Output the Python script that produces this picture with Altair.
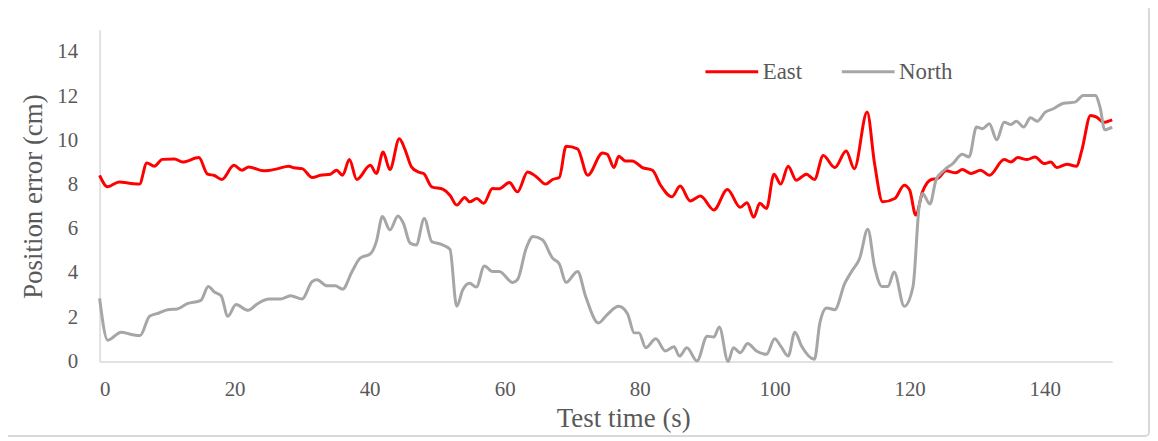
import altair as alt
import pandas as pd

east_t = [0.0, 1.2, 2.9, 4.7, 5.9, 7.0, 8.1, 9.3, 11.1, 12.3, 14.7, 16.0, 17.0, 18.1, 19.9,
          21.1, 22.1, 24.3, 26.3, 28.0, 28.8, 30.0, 31.5, 32.7, 34.2, 35.1, 36.0, 37.0, 38.1,
          40.1, 41.0, 42.0, 43.0, 44.4, 45.2, 46.2, 47.2, 48.0, 49.2, 50.9, 51.9, 52.9, 54.1,
          54.8, 55.9, 56.9, 58.2, 59.2, 60.7, 61.9, 63.4, 64.6, 66.1, 67.1, 68.1, 69.1, 70.8,
          72.3, 74.5, 75.2, 76.2, 76.9, 77.9, 78.9, 80.4, 81.9, 83.1, 84.8, 86.0, 87.5, 89.0,
          91.0, 93.0, 94.9, 95.9, 96.9, 97.8, 98.8, 99.9, 100.9, 102.0, 103.2, 104.7, 105.9,
          107.2, 108.9, 110.6, 111.8, 113.7, 114.8, 116.0, 117.8, 119.2, 120.0, 120.9, 121.9,
          123.2, 124.1, 125.4, 126.8, 127.8, 129.1, 130.5, 131.8, 134.0, 135.0, 136.0, 137.4,
          138.6, 139.9, 140.9, 141.8, 143.3, 144.7, 145.5, 146.8, 147.7, 148.7, 150.0]
east_v = [8.42, 7.90, 8.12, 8.05, 8.02, 8.98, 8.83, 9.14, 9.16, 9.02, 9.22, 8.47, 8.41, 8.23, 8.87,
          8.65, 8.80, 8.62, 8.71, 8.83, 8.76, 8.72, 8.32, 8.42, 8.47, 8.65, 8.42, 9.13, 8.23,
          8.87, 8.50, 9.47, 8.68, 10.07, 9.62, 8.80, 8.57, 8.50, 7.90, 7.78, 7.52, 7.07, 7.42,
          7.22, 7.37, 7.15, 7.82, 7.81, 8.09, 7.67, 8.57, 8.38, 8.02, 8.23, 8.32, 9.73, 9.62,
          8.42, 9.43, 9.37, 8.77, 9.28, 9.07, 9.07, 8.77, 8.65, 7.97, 7.45, 7.93, 7.26, 7.48,
          6.85, 7.78, 6.97, 7.18, 6.52, 7.15, 6.92, 8.47, 8.02, 8.83, 8.20, 8.47, 8.23,
          9.32, 8.77, 9.52, 8.72, 11.28, 8.95, 7.22, 7.37, 7.97, 7.75, 6.62, 7.67,
          8.23, 8.27, 8.62, 8.53, 8.68, 8.50, 8.65, 8.42, 9.13, 9.02, 9.22, 9.13,
          9.25, 8.95, 9.02, 8.77, 8.92, 8.83, 9.55, 11.13, 11.05, 10.82, 10.93]

north_t = [0.0, 1.2, 3.2, 4.7, 6.0, 7.4, 8.8, 10.1, 11.5, 13.0, 15.0, 16.1, 17.0, 18.0, 19.0,
           20.2, 22.0, 23.4, 25.1, 26.8, 28.3, 30.0, 31.5, 32.2, 33.7, 34.9, 36.0, 37.4, 38.6,
           40.1, 41.0, 41.9, 43.0, 44.2, 45.0, 46.0, 46.9, 48.1, 49.2, 50.4, 51.9, 52.9, 53.8,
           54.8, 55.8, 57.0, 58.2, 59.2, 61.2, 61.9, 63.2, 64.2, 65.6, 67.1, 68.1, 69.1, 70.8,
           72.0, 73.9, 75.2, 76.9, 78.2, 79.2, 79.9, 80.9, 82.4, 83.8, 85.1, 85.9, 87.0, 88.5,
           90.0, 91.0, 91.8, 93.1, 93.9, 94.9, 96.0, 97.3, 98.8, 100.0, 100.9, 102.0, 103.0,
           104.0, 105.9, 106.7, 107.7, 108.9, 110.4, 111.4, 112.6, 113.8, 114.8, 115.9, 116.8,
           117.7, 119.2, 120.5, 121.4, 121.9, 123.0, 123.9, 125.1, 126.4, 127.8, 128.8, 129.9,
           130.8, 131.8, 132.9, 134.0, 135.0, 135.8, 136.9, 137.9, 138.9, 140.1, 141.3, 142.8,
           144.5, 145.7, 147.5, 148.2, 148.9, 150.0]
north_v = [2.85, 0.96, 1.32, 1.22, 1.17, 2.04, 2.19, 2.34, 2.37, 2.61, 2.76, 3.39, 3.14, 2.97, 2.04,
           2.57, 2.31, 2.61, 2.82, 2.82, 2.97, 2.82, 3.62, 3.69, 3.42, 3.42, 3.27, 4.07, 4.67,
           4.86, 5.42, 6.55, 5.95, 6.58, 6.25, 5.35, 5.27, 6.47, 5.42, 5.32, 5.07, 2.49, 3.24,
           3.54, 3.36, 4.32, 4.07, 4.07, 3.57, 3.69, 5.12, 5.65, 5.50, 4.67, 4.41, 3.57, 4.07,
           2.94, 1.74, 2.12, 2.49, 2.16, 1.29, 1.29, 0.62, 1.02, 0.47, 0.66, 0.24, 0.62, 0.02,
           1.14, 1.10, 1.56, 0.00, 0.62, 0.39, 0.81, 0.47, 0.32, 1.02, 0.69, 0.24, 1.32,
           0.69, 0.10, 1.74, 2.42, 2.34, 3.54, 4.07, 4.67, 5.98, 4.29, 3.39, 3.39,
           4.05, 2.49, 3.39, 7.00, 7.60, 7.12, 8.20, 8.65, 8.95, 9.37, 9.25, 10.60,
           10.53, 10.75, 10.03, 10.82, 10.72, 10.87, 10.60, 11.02, 10.87, 11.28, 11.43, 11.68,
           11.73, 12.03, 12.03, 11.50, 10.48, 10.60]

series_names = ["East", "North"]
series_colors = ["#ff0000", "#a6a6a6"]
x_ticks = [0, 20, 40, 60, 80, 100, 120, 140]
y_ticks = [0, 2, 4, 6, 8, 10, 12, 14]

df = pd.concat([
    pd.DataFrame({"t": east_t, "v": east_v, "series": "East", "order": range(len(east_t))}),
    pd.DataFrame({"t": north_t, "v": north_v, "series": "North", "order": range(len(north_t))}),
])

FONT = "Liberation Serif"
TXT = "#595959"
W, H = 1017, 333

lines = alt.Chart(df).mark_line(strokeWidth=3, interpolate="monotone").encode(
    x=alt.X("t:Q", scale=alt.Scale(domain=[0, 150], nice=False, zero=False),
            axis=alt.Axis(values=x_ticks, title="Test time (s)", grid=False, ticks=False,
                          domainColor="#d9d9d9", domainWidth=1.5,
                          labelFont=FONT, labelFontSize=21, labelColor=TXT, labelPadding=17,
                          titleFont=FONT, titleFontSize=27, titleColor=TXT, titleFontWeight="normal",
                          titleX=526, titleY=57, titleBaseline="middle", titleAlign="center")),
    y=alt.Y("v:Q", scale=alt.Scale(domain=[0, 15], nice=False),
            axis=alt.Axis(values=y_ticks, title="Position error (cm)", grid=False, ticks=False,
                          domainColor="#d9d9d9", domainWidth=1.5,
                          labelFont=FONT, labelFontSize=21, labelColor=TXT, labelPadding=22,
                          titleFont=FONT, titleFontSize=27, titleColor=TXT, titleFontWeight="normal",
                          titleX=-66, titleY=167, titleBaseline="middle", titleAlign="center",
                          titleAngle=270)),
    color=alt.Color("series:N", scale=alt.Scale(domain=series_names, range=series_colors),
                    legend=alt.Legend(title=None, orient="none", legendX=607, legendY=14,
                                      direction="horizontal", symbolType="stroke",
                                      symbolSize=2809, symbolStrokeWidth=3,
                                      labelFont=FONT, labelFontSize=23, labelColor=TXT,
                                      labelOffset=3, columnPadding=33, padding=0)),
    order="order:Q",
)

frame = alt.Chart(pd.DataFrame({"k": [0]})).mark_rect(
    filled=False, stroke="#d9d9d9", strokeWidth=2, cornerRadius=4
).encode(
    x=alt.value(-95), x2=alt.value(1054), y=alt.value(-24), y2=alt.value(408)
)

chart = alt.layer(frame, lines).properties(
    width=W, height=H,
    autosize=alt.AutoSizeParams(type="none"),
    padding={"left": 92, "top": 21, "right": 38, "bottom": 76},
).configure_view(stroke=None)

chart.save("out.html", embed_options={"renderer": "svg", "actions": False})
